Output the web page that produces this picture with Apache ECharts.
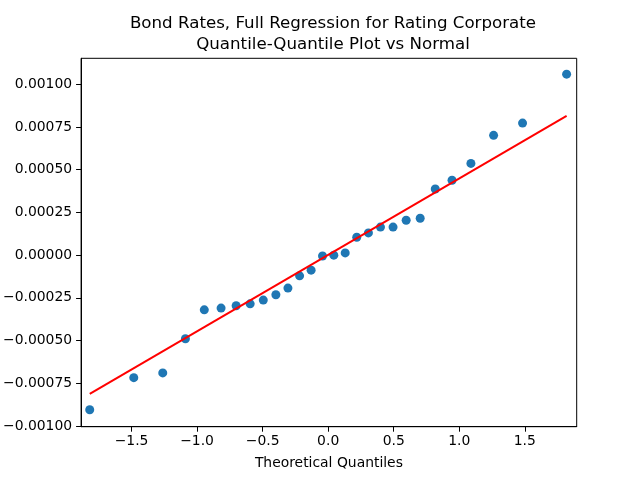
<!DOCTYPE html>
<html>
<head>
<meta charset="utf-8">
<script src="https://cdn.jsdelivr.net/npm/echarts@6/dist/echarts.min.js"></script>
<style>html,body{margin:0;padding:0;background:#fff}#c{width:640px;height:480px}</style>
</head>
<body>
<div id="c"></div>
<script>
const titleLines = ["Bond Rates, Full Regression for Rating Corporate", "Quantile-Quantile Plot vs Normal"];
const xLabel = "Theoretical Quantiles";
const theoretical = [-1.819, -1.483, -1.262, -1.089, -0.945, -0.817, -0.702, -0.595, -0.495, -0.399, -0.307, -0.218, -0.130, -0.043,
  0.043, 0.130, 0.218, 0.307, 0.399, 0.495, 0.595, 0.702, 0.817, 0.945, 1.089, 1.262, 1.483, 1.819];
const sample = [-0.000905, -0.000717, -0.000689, -0.000489, -0.000320, -0.000310, -0.000296, -0.000285, -0.000263, -0.000232, -0.000193, -0.000121, -0.000088, -0.000005,
  0.000000, 0.000013, 0.000105, 0.000130, 0.000164, 0.000164, 0.000204, 0.000216, 0.000387, 0.000438, 0.000537, 0.000701, 0.000773, 0.001059];
const fitLineX = [-1.819, 1.819];
const fitLineY = [-0.000812, 0.000815];
const xTicks = [-1.5, -1.0, -0.5, 0.0, 0.5, 1.0, 1.5];
const yTicks = [-0.00100, -0.00075, -0.00050, -0.00025, 0.00000, 0.00025, 0.00050, 0.00075, 0.00100];

const fmt = (v, d) => {
  const s = Math.abs(v).toFixed(d);
  return (v < 0 && Number(s) !== 0 ? "\u2212" : "") + s;
};
const font = "DejaVu Sans";
const chart = echarts.init(document.getElementById('c'), null, {renderer: 'canvas'});
chart.setOption({
  animation: false,
  backgroundColor: '#fff',
  title: {
    text: titleLines.join('\n'),
    left: 328, top: 8, textAlign: 'center',
    textStyle: {fontFamily: font, fontSize: 16.67, fontWeight: 'normal', color: '#000', lineHeight: 21}
  },
  grid: {left: 80.7, right: 63.3, top: 58.3, bottom: 53.3, show: true, borderColor: '#000', borderWidth: 1, backgroundColor: 'transparent'},
  xAxis: {
    type: 'value', min: -1.885, max: 1.896,
    name: xLabel, nameLocation: 'middle', nameGap: 30,
    nameTextStyle: {fontFamily: font, fontSize: 13.9, color: '#000'},
    axisLine: {show: true, onZero: false, lineStyle: {color: '#000', width: 1}},
    axisTick: {show: true, length: 5, customValues: xTicks, lineStyle: {color: '#000'}},
    axisLabel: {customValues: xTicks, margin: 8, fontFamily: font, fontSize: 13.9, color: '#000', formatter: v => fmt(v, 1)},
    splitLine: {show: false}
  },
  yAxis: {
    type: 'value', min: -0.001004, max: 0.001152,
    axisLine: {show: true, onZero: false, lineStyle: {color: '#000', width: 1}},
    axisTick: {show: true, length: 5, customValues: yTicks, lineStyle: {color: '#000'}},
    axisLabel: {customValues: yTicks, margin: 9, fontFamily: font, fontSize: 13.9, color: '#000', formatter: v => fmt(v, 5)},
    splitLine: {show: false}
  },
  series: [
    {
      type: 'scatter', symbol: 'circle', symbolSize: 9,
      itemStyle: {color: '#1f77b4', opacity: 1},
      data: theoretical.map((x, i) => [x, sample[i]]),
      z: 2
    },
    {
      type: 'line', symbol: 'none',
      lineStyle: {color: '#ff0000', width: 2},
      data: fitLineX.map((x, i) => [x, fitLineY[i]]),
      z: 3
    }
  ]
});
</script>
</body>
</html>
